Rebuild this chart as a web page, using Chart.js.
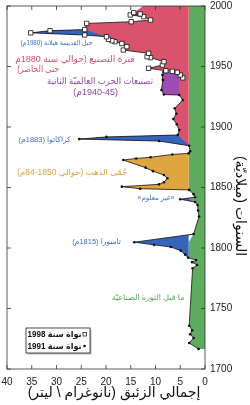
<!DOCTYPE html>
<html lang="ar">
<head>
<meta charset="utf-8">
<title>Mercury record</title>
<script src="https://cdn.jsdelivr.net/npm/chart.js@4.4.1/dist/chart.umd.min.js"></script>
<style>
  html, body { margin: 0; padding: 0; background: #fff; }
  #box { width: 250px; height: 405px; position: relative; }
</style>
</head>
<body>
<div id="box"><canvas id="chart"></canvas></div>
<script>
const FONT = '"Liberation Sans", "DejaVu Sans", sans-serif';

// tick labels
const yearTicks = [1700, 1750, 1800, 1850, 1900, 1950, 2000];
const mercuryTicks = [0, 5, 10, 15, 20, 25, 30, 35, 40];

// 1991 core (dots)
const core1991Year = [1716.5, 1721.5, 1725.6, 1728.7, 1732.0, 1735.8, 1783.2, 1786.0, 1788.3, 1790.0,
  1792.0, 1794.5, 1797.8, 1800.8, 1802.6, 1804.8, 1811.5, 1826.0, 1831.0, 1835.5,
  1838.0, 1840.3, 1842.0, 1844.5, 1848.0, 1849.0, 1850.7, 1852.6, 1854.3, 1857.6,
  1860.3, 1863.5, 1866.4, 1872.7, 1874.0, 1875.0, 1877.3, 1878.2, 1880.0, 1884.5,
  1888.4, 1890.0, 1891.8, 1893.4, 1897.5, 1902.2, 1906.6, 1911.0, 1915.4, 1922.3,
  1926.4, 1926.8, 1930.6, 1938.8, 1943.0, 1945.4];
const core1991Hg = [1.3, 3.2, 2.3, 3.0, 2.6, 3.2, 2.5, 1.6, 2.6, 1.8,
  3.4, 4.0, 4.9, 6.9, 10.3, 14.3, 2.3, 1.2, 1.4, 1.5,
  2.0, 5.0, 2.0, 2.3, 3.2, 13.1, 16.8, 9.3, 8.3, 7.6,
  8.3, 10.5, 12.0, 16.5, 13.9, 11.0, 6.6, 3.3, 3.0, 3.2,
  9.3, 25.4, 19.9, 5.5, 5.2, 5.7, 6.4, 5.8, 6.1, 4.5,
  5.2, 8.3, 8.8, 8.5, 8.6, 8.4];

// 1998 core (squares)
const core1998Year = [1940.6, 1943.0, 1945.2, 1946.0, 1946.5, 1948.5, 1951.2, 1954.0, 1957.3, 1958.1,
  1960.9, 1963.6, 1966.4, 1969.0, 1970.5, 1971.3, 1972.4, 1974.6, 1976.0, 1977.8,
  1979.6, 1980.5, 1985.6, 1987.0, 1988.4, 1991.2, 1992.6, 1993.4, 1994.5];
const core1998Hg = [4.5, 5.0, 5.6, 6.6, 7.9, 11.4, 8.6, 8.3, 11.0, 11.7,
  11.4, 16.5, 15.8, 16.8, 18.2, 18.8, 19.5, 19.9, 24.3, 35.2,
  31.3, 24.3, 23.9, 14.9, 11.0, 12.4, 15.1, 13.1, 14.4];

// pre-industrial background level and shaded periods
const background = 3.3;
const tamboraYears = [1792, 1811.5];
const unknownYears = [1838, 1842];
const goldRushYears = [1848, 1880];
const krakatoaYears = [1884.5, 1893.4];
const industryYears = [1880, 1945.4];
const warYears = [1926.4, 1945.4];
const warEdgeHg = 5.2;
const stHelensYears = [1974.6, 1980.5];
// slanted edges of the volcanic wedges over the industrial part
const krakatoaEdgeYear = [1884.5, 1893.4];
const krakatoaEdgeHg = [3.2, 5.5];
const stHelensEdgeYear = [1974.6, 1980.5];
const stHelensEdgeHg = [19.9, 24.3];
// edge of the industrial area where it meets the top of the frame
const industryTopYear = [2000];
const industryTopHg = [12.5];

const GREEN = '#5fab5f', PINK = '#d9536d', PURPLE = '#9a4db3', ORANGE = '#dfa541', BLUE = '#3465bb';

const pts = (years, hg) => years.map((y, i) => ({x: hg[i], y}));
const core1991 = pts(core1991Year, core1991Hg);
const core1998 = pts(core1998Year, core1998Hg);
const within = (arr, r) => arr.filter(p => p.y >= r[0] && p.y <= r[1]);
const greenEdge = core1991.map(p => ({x: Math.min(p.x, background), y: p.y}))
  .concat([{x: background, y: 2000}]);

function area(data, color, fill) {
  return {data, fill, backgroundColor: color, borderColor: 'rgba(0,0,0,0)', borderWidth: 0, pointRadius: 0};
}
function edge(data) {
  return {data, fill: false, borderColor: 'rgba(0,0,0,0)', borderWidth: 0, pointRadius: 0};
}

const GREEN_IDX = 10;
const datasets = [
  {label: '1998', data: core1998, fill: false, borderColor: '#111', borderWidth: 0.8,
   pointStyle: 'rect', pointRadius: 3.1, pointBackgroundColor: '#fff', pointBorderColor: '#111', pointBorderWidth: 0.8},
  {label: '1991', data: core1991, fill: false, borderColor: '#111', borderWidth: 0.8,
   pointStyle: 'circle', pointRadius: 1.3, pointBackgroundColor: '#111', pointBorderWidth: 0},
  area(within(core1991, warYears), PURPLE, {value: warEdgeHg}),
  area(within(core1991, krakatoaYears), BLUE, 11),
  area(within(core1998, stHelensYears), BLUE, 12),
  area(within(core1991, tamboraYears), BLUE, {value: background}),
  area(within(core1991, unknownYears), BLUE, GREEN_IDX),
  area(within(core1991, goldRushYears), ORANGE, GREEN_IDX),
  area(within(core1991, industryYears), PINK, GREEN_IDX),
  area(core1998.concat(pts(industryTopYear, industryTopHg)), PINK, GREEN_IDX),
  area(greenEdge, GREEN, 'origin'),
  edge(pts(krakatoaEdgeYear, krakatoaEdgeHg)),
  edge(pts(stHelensEdgeYear, stHelensEdgeHg))
];

const notes = [
  {text: 'جبل القديسة هيلانة (1980م)', hg: 30.0, year: 1969.4, color: '#3d6fc4', size: 7, w: 72},
  {text: 'فترة التصنيع (حوالي سنة 1880م', hg: 26.3, year: 1955.4, color: '#d7506c', size: 9, w: 122},
  {text: 'حتى الحاضر)', hg: 33.7, year: 1947.1, color: '#d7506c', size: 9, w: 42},
  {text: 'تصنيعات الحرب العالميّة الثانية', hg: 21.2, year: 1938.0, color: '#9047a8', size: 9, w: 106},
  {text: '(1940-45م)', hg: 22.1, year: 1928.9, color: '#9047a8', size: 9, w: 48},
  {text: 'كراكاتوا (1883م)', hg: 32.4, year: 1889.3, color: '#3d6fc4', size: 7.5, w: 68},
  {text: 'حُمّى الذهب (حوالي 1850-84م)', hg: 26.8, year: 1862.0, color: '#dda23c', size: 8.5, w: 120},
  {text: '«غير معلوم»', hg: 9.9, year: 1841.3, color: '#3d6fc4', size: 7, w: 44},
  {text: 'تامبورا (1815م)', hg: 21.9, year: 1805.0, color: '#3d6fc4', size: 7.5, w: 64},
  {text: 'ما قبل الثورة الصناعيّة', hg: 11.5, year: 1758.7, color: '#5aa85a', size: 8, w: 80}
];

function text(ctx, str, x, y, color, size, maxW, align, weight) {
  ctx.save();
  ctx.font = (weight || 'normal') + ' ' + size + 'px ' + FONT;
  ctx.fillStyle = color;
  ctx.direction = 'rtl';
  ctx.textAlign = align || 'center';
  ctx.textBaseline = 'middle';
  ctx.fillText(str, x, y, maxW);
  ctx.restore();
}

const decor = {
  id: 'decor',
  afterDatasetsDraw(chart) {
    const {ctx, chartArea: a, scales: {x, y}} = chart;
    ctx.save();
    ctx.strokeStyle = '#333';
    ctx.lineWidth = 0.8;
    ctx.strokeRect(a.left, a.top, a.right - a.left, a.bottom - a.top);
    ctx.beginPath();
    mercuryTicks.forEach(v => {
      const px = x.getPixelForValue(v);
      ctx.moveTo(px, a.bottom); ctx.lineTo(px, a.bottom - 4);
      ctx.moveTo(px, a.top); ctx.lineTo(px, a.top + 4);
    });
    yearTicks.forEach(v => {
      const py = y.getPixelForValue(v);
      ctx.moveTo(a.left, py); ctx.lineTo(a.left + 4, py);
      ctx.moveTo(a.right, py); ctx.lineTo(a.right - 4, py);
    });
    ctx.stroke();
    ctx.restore();

    notes.forEach(n => text(ctx, n.text, x.getPixelForValue(n.hg), y.getPixelForValue(n.year), n.color, n.size, n.w));

    // legend
    const lx = a.left + 19, ly = a.bottom - 41;
    ctx.save();
    ctx.fillStyle = '#bbb';
    ctx.fillRect(lx + 1.5, ly + 1.5, 64, 25);
    ctx.fillStyle = '#fff';
    ctx.fillRect(lx, ly, 64, 25);
    ctx.strokeStyle = '#222';
    ctx.lineWidth = 0.8;
    ctx.strokeRect(lx, ly, 64, 25);
    ctx.strokeRect(lx + 57, ly + 4.5, 3.5, 3.5);
    ctx.fillStyle = '#111';
    ctx.beginPath();
    ctx.arc(lx + 58.5, ly + 18, 1.3, 0, Math.PI * 2);
    ctx.fill();
    ctx.restore();
    text(ctx, 'نواة سنة 1998', lx + 55.5, ly + 6.5, '#111', 8.5, 54, 'right', 'bold');
    text(ctx, 'نواة سنة 1991', lx + 55.5, ly + 18.5, '#111', 8.5, 54, 'right', 'bold');

    // axis titles
    text(ctx, 'إجمالي الزئبق (نانوغرام \\ ليتر)', a.left + 107, a.bottom + 24, '#111', 14, 185);
    ctx.save();
    ctx.translate(a.right + 35, a.top + 200);
    ctx.rotate(Math.PI / 2);
    text(ctx, 'السنوات (ميلاديّة)', 0, 0, '#111', 14, 120);
    ctx.restore();
  }
};

new Chart(document.getElementById('chart'), {
  type: 'line',
  data: {datasets},
  options: {
    indexAxis: 'y',
    responsive: true,
    maintainAspectRatio: false,
    animation: false,
    events: [],
    layout: {padding: {left: 7, top: 6, right: 0, bottom: 0}},
    elements: {line: {tension: 0}},
    plugins: {legend: {display: false}, tooltip: {enabled: false}},
    scales: {
      x: {
        type: 'linear', position: 'bottom', min: 0, max: 40, reverse: true,
        afterBuildTicks: s => { s.ticks = mercuryTicks.map(v => ({value: v})); },
        afterFit: s => { s.height = 36; s.paddingLeft = 0; s.paddingRight = 0; },
        grid: {display: false, drawTicks: false, tickLength: 0},
        border: {display: false},
        ticks: {color: '#222', padding: 7, font: {family: FONT, size: 10}, maxRotation: 0, callback: v => String(v)}
      },
      y: {
        type: 'linear', position: 'right', min: 1700, max: 2000,
        afterBuildTicks: s => { s.ticks = yearTicks.map(v => ({value: v})); },
        afterFit: s => { s.width = 45; s.paddingTop = 0; s.paddingBottom = 0; },
        grid: {display: false, drawTicks: false, tickLength: 0},
        border: {display: false},
        ticks: {color: '#222', padding: 5, font: {family: FONT, size: 10}, callback: v => String(v)}
      }
    }
  },
  plugins: [decor]
});
</script>
</body>
</html>
